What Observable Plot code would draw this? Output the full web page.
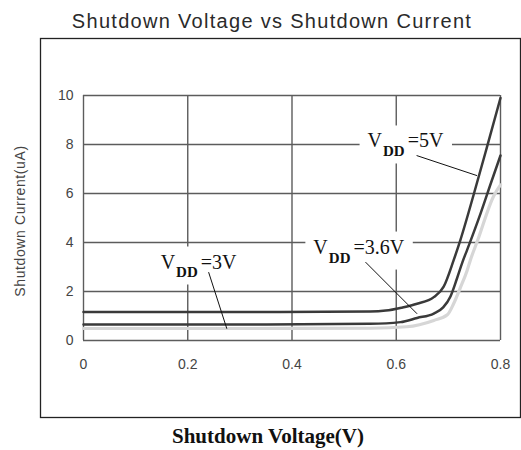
<!DOCTYPE html>
<html>
<head>
<meta charset="utf-8">
<script src="https://cdn.jsdelivr.net/npm/d3@7"></script>
<script src="https://cdn.jsdelivr.net/npm/@observablehq/plot@0.6"></script>
<style>
  html, body { margin: 0; padding: 0; background: #fff; }
</style>
</head>
<body>
<div id="chart"></div>
<script>
// ---- data ----
const title = "Shutdown Voltage vs Shutdown Current";
const xLabel = "Shutdown Voltage(V)";
const yLabel = "Shutdown Current(uA)";
const xTicks = [0, 0.2, 0.4, 0.6, 0.8];
const yTicks = [0, 2, 4, 6, 8, 10];

// [shutdown voltage (V), shutdown current (uA)]
const vdd5V = [[0,1.16],[0.3,1.16],[0.55,1.18],[0.58,1.22],[0.61,1.34],[0.64,1.5],[0.672,1.77],[0.691,2.2],[0.71,3.27],[0.723,4.1],[0.749,5.99],[0.774,7.89],[0.80,9.9]];
const vdd36V = [[0,0.65],[0.3,0.65],[0.55,0.68],[0.608,0.75],[0.64,0.92],[0.672,1.1],[0.69,1.35],[0.704,1.8],[0.716,2.5],[0.727,3.2],[0.736,3.7],[0.762,5.2],[0.782,6.45],[0.80,7.55]];
const vdd3V = [[0,0.49],[0.3,0.49],[0.55,0.5],[0.62,0.56],[0.672,0.82],[0.698,1.05],[0.71,1.5],[0.723,2.16],[0.736,2.86],[0.742,3.27],[0.756,4.08],[0.787,5.9],[0.80,6.35]];

const labelX = [0.545, 0.441, 0.148];
const labelY = [8.14, 3.81, 3.2];
const labelSub = ["DD", "DD", "DD"];
const labelRest = ["=5V", "=3.6V", "=3V"];
const leaderX1 = [0.639, 0.541, 0.240];
const leaderY1 = [7.55, 3.2, 2.79];
const leaderX2 = [0.755, 0.640, 0.275];
const leaderY2 = [6.73, 1.09, 0.48];

// ---- build tables ----
const toRows = (arr) => arr.map(([v, i]) => ({v, i}));
const labels = labelX.map((x, k) => ({x, y: labelY[k], sub: labelSub[k], rest: labelRest[k]}));
const leaders = leaderX1.map((x1, k) => ({x1, y1: leaderY1[k], x2: leaderX2[k], y2: leaderY2[k]}));

const plot = Plot.plot({
  width: 521,
  height: 450,
  marginLeft: 83,
  marginRight: 21,
  marginTop: 95,
  marginBottom: 110,
  style: {fontFamily: "Liberation Sans, Arial, sans-serif", background: "#fff"},
  x: {domain: [0, 0.8], axis: null},
  y: {domain: [0, 10], axis: null},
  marks: [
    // outer box
    Plot.frame({insetLeft: -43, insetTop: -57, insetRight: -20, insetBottom: -77, stroke: "#222", strokeWidth: 1.3}),
    Plot.gridX({ticks: xTicks, stroke: "#5c5c5c", strokeOpacity: 1, strokeWidth: 1.4}),
    Plot.gridY({ticks: yTicks, stroke: "#5c5c5c", strokeOpacity: 1, strokeWidth: 1.4}),
    Plot.axisX({ticks: xTicks, tickFormat: d3.format("~g"), tickSize: 0, tickPadding: 19, fontSize: 14, color: "#444", label: null}),
    Plot.axisY({ticks: yTicks, tickSize: 0, tickPadding: 10, fontSize: 14, color: "#444", label: null}),
    Plot.line(toRows(vdd3V), {x: "v", y: "i", stroke: "#d6d6d6", strokeWidth: 3.2, curve: "monotone-x"}),
    Plot.line(toRows(vdd36V), {x: "v", y: "i", stroke: "#3a3a3a", strokeWidth: 2.5, curve: "monotone-x"}),
    Plot.line(toRows(vdd5V), {x: "v", y: "i", stroke: "#3a3a3a", strokeWidth: 2.5, curve: "monotone-x"}),
    Plot.text(labels, {x: "x", y: "y", text: () => "V", textAnchor: "start", fontSize: 20,
      fontFamily: "Liberation Serif, Times New Roman, serif", fill: "#111"}),
    Plot.link(leaders, {x1: "x1", y1: "y1", x2: "x2", y2: "y2", stroke: "#111", strokeWidth: 1}),
    Plot.text([title], {frameAnchor: "top", textAnchor: "middle", lineAnchor: "middle", dx: -20, dy: -74, fontSize: 20, fill: "#2a2a2a"}),
    Plot.text([xLabel], {frameAnchor: "bottom", textAnchor: "middle", lineAnchor: "middle", dx: -24, dy: 96, fontSize: 21, fontWeight: "bold",
      fontFamily: "Liberation Serif, Times New Roman, serif", fill: "#111"}),
    Plot.text([yLabel], {frameAnchor: "left", textAnchor: "middle", lineAnchor: "middle", dx: -63, dy: 3, rotate: -90, fontSize: 14, fill: "#444"})
  ]
});

document.getElementById("chart").appendChild(plot);

// letter spacing for title / y label
d3.select(plot).selectAll("text").each(function() {
  const t = this.textContent;
  if (t === title) this.setAttribute("letter-spacing", "1.3");
  if (t === yLabel) this.setAttribute("letter-spacing", "0.6");
});

// subscript labels with white backgrounds
const vTexts = d3.select(plot).selectAll("text").filter(function() {
  return this.textContent === "V" && this.children.length === 0;
}).nodes();
vTexts.forEach((node, k) => {
  const lab = labels[k];
  const text = d3.select(node);
  text.text(null);
  text.append("tspan").text("V");
  text.append("tspan").attr("dx", 1).attr("dy", 9).attr("font-size", 15).attr("font-weight", "bold").text(lab.sub);
  text.append("tspan").attr("dx", 3).attr("dy", -9).text(lab.rest);
  const bb = node.getBBox();
  const padX = 8, padY = 4;
  d3.select(node.parentNode).insert("rect", () => node)
    .attr("x", bb.x - padX).attr("y", bb.y - padY)
    .attr("width", bb.width + 2 * padX).attr("height", bb.height + 2 * padY)
    .attr("fill", "#fff")
    .attr("transform", node.getAttribute("transform"));
});
</script>
</body>
</html>
